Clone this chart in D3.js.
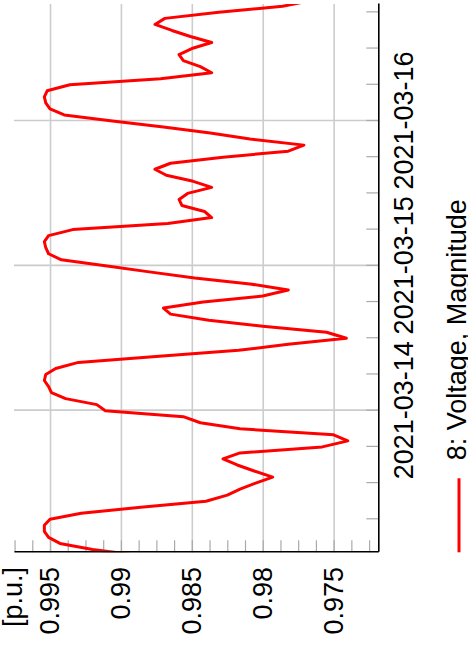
<!DOCTYPE html>
<html><head><meta charset="utf-8">
<script src="https://cdn.jsdelivr.net/npm/d3@7"></script>
<style>html,body{margin:0;padding:0;background:#fff;overflow:hidden}</style>
</head><body>
<svg id="c" width="468" height="649"></svg>
<script>
// ---- data ----
const seriesName = "8: Voltage, Magnitude";
const unitLabel = "[p.u.]";
const startTime = "2021-03-13T00:00:00Z";   // hourly samples
const voltage = [
  0.9887, 0.9920, 0.9943, 0.9951, 0.9954, 0.9954, 0.9950, 0.9928, 0.9886, 0.9840,
  0.9825, 0.9816, 0.9805, 0.9793, 0.9806, 0.9818, 0.9828, 0.9816, 0.9758, 0.9740,
  0.9750, 0.9816, 0.9844, 0.9856, 0.9911, 0.9917, 0.9939, 0.9949, 0.9951, 0.9954,
  0.9953, 0.9946, 0.9930, 0.9873, 0.9817, 0.9782, 0.9741, 0.9755, 0.9800, 0.9838,
  0.9865, 0.9870, 0.9842, 0.9800, 0.9782, 0.9809, 0.9848, 0.9880, 0.9911, 0.9942,
  0.9951, 0.9953, 0.9954, 0.9951, 0.9934, 0.9867, 0.9836, 0.9841, 0.9857, 0.9859,
  0.9853, 0.9836, 0.9849, 0.9868, 0.9876, 0.9865, 0.9828, 0.9782, 0.9771, 0.9809,
  0.9837, 0.9870, 0.9906, 0.9940, 0.9950, 0.9953, 0.9954, 0.9952, 0.9936, 0.9872,
  0.9836, 0.9844, 0.9856, 0.9859, 0.9850, 0.9836, 0.9851, 0.9864, 0.9876, 0.9869,
  0.9831, 0.9786, 0.9765
];
const xDomain = ["2021-03-13T00:32:00Z", "2021-03-16T19:23:00Z"];
const yDomain = [0.97185, 0.99754];
const yTickValues = [0.995, 0.99, 0.985, 0.98, 0.975];
const yTickLabels = ["0.995", "0.99", "0.985", "0.98", "0.975"];
const yMinorStep = 0.00125;
const xTickLabels = ["2021-03-14", "2021-03-15", "2021-03-16"];

// ---- layout (chart drawn in landscape, then rotated) ----
const W = 649, H = 468;
const m = {left: 96.7, right: 4, top: 14, bottom: 89.7};
const pw = W - m.left - m.right, ph = H - m.top - m.bottom;
const FONT = "'Liberation Sans', Arial, sans-serif";
const FS = 27;

const t0 = new Date(startTime).getTime();
const data = voltage.map((v, i) => ({t: new Date(t0 + i * 3600e3), v}));

const x = d3.scaleUtc().domain(xDomain.map(s => new Date(s))).range([0, pw]);
const y = d3.scaleLinear().domain(yDomain).range([ph, 0]);

const svg = d3.select("#c");
const root = svg.append("g").attr("transform", `translate(0,${W}) rotate(-90)`);
const g = root.append("g").attr("transform", `translate(${m.left},${m.top})`);

// gridlines
const dayTicks = xTickLabels.map(s => new Date(s + "T00:00:00Z"));
const gx = g.append("g").attr("transform", `translate(0,${ph})`)
  .call(d3.axisBottom(x).tickValues(dayTicks).tickSize(-ph).tickFormat(""));
const gy = g.append("g")
  .call(d3.axisLeft(y).tickValues(yTickValues).tickSize(-pw).tickFormat(""));
[gx, gy].forEach(a => {
  a.select(".domain").remove();
  a.selectAll("line").attr("stroke", "#cccccc").attr("stroke-width", 1.6);
});

// minor inward ticks
const yMinor = d3.range(Math.ceil(yDomain[0] / yMinorStep) * yMinorStep, yDomain[1], yMinorStep);
const mx = g.append("g").attr("transform", `translate(0,${ph})`)
  .call(d3.axisBottom(x).ticks(d3.utcHour.every(6)).tickSize(-12).tickFormat(""));
const my = g.append("g")
  .call(d3.axisLeft(y).tickValues(yMinor).tickSize(-12).tickFormat(""));
[mx, my].forEach(a => {
  a.select(".domain").remove();
  a.selectAll("line").attr("stroke", "#aaaaaa").attr("stroke-width", 1.2);
});

// data line
g.append("clipPath").attr("id", "clip").append("rect").attr("width", pw).attr("height", ph);
g.append("path").datum(data)
  .attr("clip-path", "url(#clip)")
  .attr("fill", "none").attr("stroke", "#ff0000").attr("stroke-width", 3)
  .attr("stroke-linejoin", "round")
  .attr("d", d3.line().x(d => x(d.t)).y(d => y(d.v)));

// axis lines
const ax = g.append("g").attr("transform", `translate(0,${ph})`)
  .call(d3.axisBottom(x).tickValues(dayTicks).tickSize(0).tickPadding(16)
        .tickFormat((d, i) => xTickLabels[i]));
const ay = g.append("g")
  .call(d3.axisLeft(y).tickValues(yTickValues).tickSize(0).tickPadding(14.7)
        .tickFormat((d, i) => yTickLabels[i]));
[ax, ay].forEach(a => {
  a.select(".domain").attr("stroke", "#000").attr("stroke-width", 1.6);
  a.selectAll("text").attr("font-family", FONT).attr("font-size", FS).attr("fill", "#000");
});

// unit label
root.append("text").attr("x", m.left - 14.7).attr("y", 22)
  .attr("text-anchor", "end").attr("font-family", FONT).attr("font-size", FS)
  .text(unitLabel);

// legend
root.append("line").attr("x1", m.left).attr("x2", m.left + 74)
  .attr("y1", 459).attr("y2", 459).attr("stroke", "#ff0000").attr("stroke-width", 3);
root.append("text").attr("x", m.left + 92).attr("y", 466)
  .attr("font-family", FONT).attr("font-size", FS).text(seriesName);
</script>
</body></html>
